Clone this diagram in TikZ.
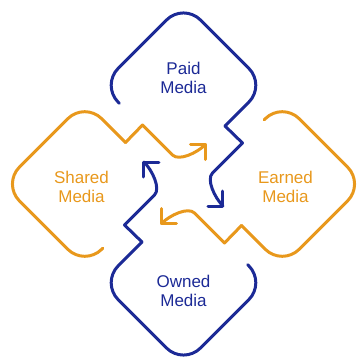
\documentclass[tikz,border=0pt]{standalone}
\usepackage{fontspec}
\setmainfont{Liberation Sans}
\definecolor{mblue}{RGB}{28,42,150}
\definecolor{morange}{RGB}{232,152,28}
\tikzset{
  loopline/.style={line width=3pt, line cap=round, line join=round},
  medialabel/.style={font=\fontsize{17}{19}\selectfont, align=center, inner sep=0pt}
}
\begin{document}
\begin{tikzpicture}[x=1pt,y=1pt]
\useasboundingbox (-183.5,-176) rectangle (175.5,184);
\foreach \ang/\col in {0/mblue,90/morange,180/mblue,270/morange}{
  \begin{scope}[rotate=\ang, draw=\col, loopline]
    \coordinate (E) at (-64.25,80.75);
    \coordinate (L) at (-82.25,98.75);
    \coordinate (T) at (0,181);
    \coordinate (R) at (82.25,98.75);
    \coordinate (Z1) at (41.5,58);
    \coordinate (Z2) at (59,41);
    \coordinate (Z3) at (29,11);
    \coordinate (A) at (39.5,-22);
    \draw[rounded corners=24pt] (E) -- (L) -- (T) -- (R) -- (Z1);
    \draw (Z1) -- (Z2) -- (Z3) .. controls +(225:9) and +(135:12) .. (A);
    \draw (A) ++(-15,0) -- (A) -- ++(0,15);
  \end{scope}
}
\node[medialabel, text=mblue] (paid) at (0,106) {Paid\\Media};
\node[medialabel, text=morange] (earned) at (102,-3) {Earned\\Media};
\node[medialabel, text=morange] (shared) at (-102,-3) {Shared\\Media};
\node[medialabel, text=mblue] (owned) at (0,-107) {Owned\\Media};
\end{tikzpicture}
\end{document}
